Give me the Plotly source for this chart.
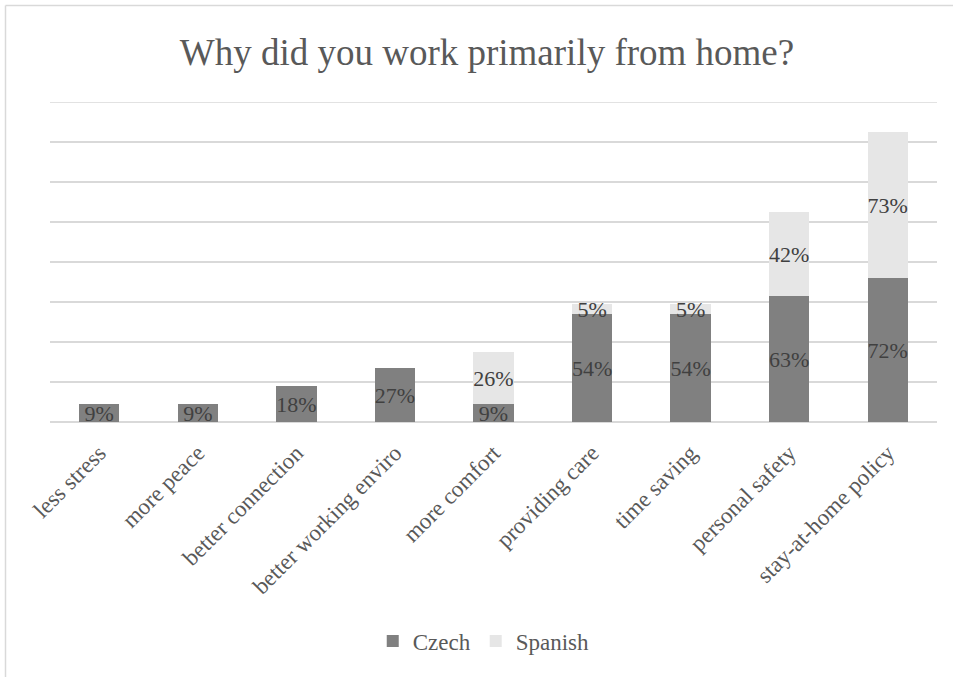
import plotly.graph_objects as go

# Survey answers, stacked by country
reasons = ["less stress", "more peace", "better connection", "better working enviro",
           "more comfort", "providing care", "time saving", "personal safety",
           "stay-at-home policy"]
czech = [9, 9, 18, 27, 9, 54, 54, 63, 72]
spanish = [None, None, None, None, 26, 5, 5, 42, 73]

W, H = 953, 677
M_L, M_R, M_T, M_B = 50, 16, 102, 255
SERIF = "Liberation Serif, Times New Roman, serif"
Y_MAX = 160


def pct(vals):
    return [f"{v}%" if v is not None else "" for v in vals]


fig = go.Figure()
fig.add_trace(go.Bar(
    name="Czech", x=reasons, y=czech, marker=dict(color="#808080", line=dict(width=0)),
    text=pct(czech), textposition="inside", insidetextanchor="middle",
    constraintext="none", textangle=0,
    textfont=dict(family=SERIF, size=22, color="#404040"),
))
fig.add_trace(go.Bar(
    name="Spanish", x=reasons, y=spanish, marker=dict(color="#e6e6e6", line=dict(width=0)),
    text=pct(spanish), textposition="inside", insidetextanchor="middle",
    constraintext="none", textangle=0,
    textfont=dict(family=SERIF, size=22, color="#404040"),
))

plot_w = W - M_L - M_R
plot_h = H - M_T - M_B
# outer frame: top and left edges of the chart box
bx = (5.5 - M_L) / plot_w
by = 1 + (M_T - 5.5) / plot_h
by0 = -(M_B + 10) / plot_h

fig.update_layout(
    width=W, height=H,
    barmode="stack", bargap=0.59,
    paper_bgcolor="white", plot_bgcolor="white",
    margin=dict(l=M_L, r=M_R, t=M_T, b=M_B, autoexpand=False),
    title=dict(text="Why did you work primarily from home?", x=0.511, xanchor="center",
               y=1 - 52 / H, yanchor="middle",
               font=dict(family=SERIF, size=37, color="#595959")),
    xaxis=dict(tickangle=-45, tickfont=dict(family=SERIF, size=23, color="#595959"),
               showline=False, ticks="", showgrid=False, automargin=False,
               ticklabelstandoff=12),
    yaxis=dict(range=[0, Y_MAX], dtick=20, showticklabels=False, gridcolor="#d9d9d9",
               gridwidth=1.5, zeroline=True, zerolinecolor="#d9d9d9", zerolinewidth=1.5,
               showline=False, ticks=""),
    legend=dict(orientation="h", x=0.489, xanchor="center", y=-(641 - M_T - plot_h) / plot_h,
                yanchor="middle", font=dict(family=SERIF, size=23, color="#595959"),
                traceorder="normal", itemwidth=30),
    shapes=[
        dict(type="line", xref="paper", yref="paper", x0=bx, x1=1.1, y0=by, y1=by,
             line=dict(color="#d9d9d9", width=1.5)),
        dict(type="line", xref="paper", yref="paper", x0=bx, x1=bx, y0=by, y1=by0,
             line=dict(color="#d9d9d9", width=1.5)),
        # top gridline at the end of the value range
        dict(type="line", xref="paper", yref="y", x0=0, x1=1, y0=Y_MAX, y1=Y_MAX,
             line=dict(color="#d9d9d9", width=1.5), layer="below"),
    ],
    showlegend=True,
)

fig.write_html("out.html")
